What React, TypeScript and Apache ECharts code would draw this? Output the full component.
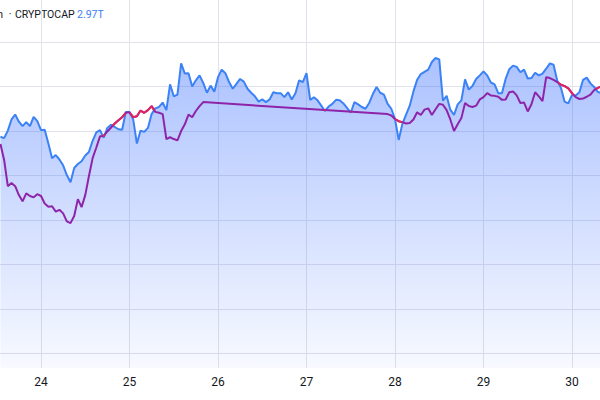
import React, { useEffect, useRef } from "react";
import * as echarts from "echarts";

// Hourly closes, CRYPTOCAP (in $B), first bar = 23rd 13:00
const START_DAY = 23 + 13 / 24;
const CRYPTOCAP = [
  2958.7, 2958.4, 2960.1, 2962.6, 2963.7, 2962.1, 2961.1, 2962.0, 2961.1, 2963.2,
  2962.2, 2960.2, 2960.3, 2957.2, 2953.9, 2954.6, 2953.6, 2952.3, 2950.1, 2948.5,
  2951.7, 2952.6, 2953.2, 2954.5, 2955.3, 2957.8, 2959.7, 2960.2, 2958.5, 2960.7,
  2961.4, 2960.9, 2960.4, 2960.3, 2964.3, 2964.3, 2962.6, 2957.2, 2960.1, 2959.8,
  2960.7, 2963.8, 2965.1, 2965.4, 2966.4, 2964.7, 2970.5, 2967.8, 2968.2, 2975.2,
  2972.9, 2973.0, 2970.0, 2971.4, 2972.5, 2970.8, 2968.6, 2970.2, 2968.8, 2972.1,
  2973.8, 2973.0, 2971.0, 2969.5, 2970.6, 2971.7, 2971.1, 2969.5, 2968.6, 2967.8,
  2966.6, 2967.1, 2966.5, 2967.1, 2968.7, 2968.5, 2968.5, 2967.6, 2968.7, 2967.1,
  2968.5, 2971.4, 2971.0, 2973.0, 2967.0, 2967.6, 2966.9, 2965.7, 2964.5, 2965.5,
  2966.1, 2967.0, 2966.9, 2966.2, 2965.2, 2964.1, 2966.5, 2966.0, 2965.4, 2965.0,
  2966.3, 2968.3, 2969.9, 2968.6, 2968.2, 2966.1, 2965.0, 2962.7, 2958.0, 2961.6,
  2963.7, 2965.7, 2968.9, 2971.5, 2972.8, 2973.3, 2973.8, 2975.5, 2976.4, 2976.1,
  2966.8, 2967.9, 2964.8, 2963.6, 2966.0, 2966.9, 2971.6, 2969.3, 2970.1, 2971.7,
  2972.5, 2973.4, 2972.5, 2970.9, 2970.5, 2968.5, 2968.5, 2971.7, 2973.9, 2974.7,
  2974.4, 2973.2, 2973.8, 2971.8, 2971.9, 2973.1, 2972.5, 2972.9, 2974.0, 2975.2,
  2974.9, 2971.3, 2969.7, 2966.6, 2966.2, 2968.1, 2968.0, 2968.7, 2971.5, 2972.0,
  2970.7, 2969.9, 2968.8, 2968.5,
];

// Compared symbol, rebased to the same scale; null = market closed (weekend)
const COMPARE = [
  2957.1, 2953.5, 2947.6, 2948.3, 2947.6, 2945.6, 2944.2, 2946.0, 2945.4, 2945.1,
  2945.8, 2945.4, 2943.7, 2943.0, 2943.1, 2941.9, 2942.3, 2941.5, 2939.7, 2939.3,
  2940.9, 2944.7, 2942.9, 2945.6, 2949.9, 2953.9, 2956.3, 2958.8, 2958.9, 2959.9,
  2960.8, 2961.7, 2962.4, 2963.1, 2964.1, 2964.2, 2963.1, 2963.3, 2964.6, 2964.1,
  2964.7, 2965.6, 2964.3, 2964.1, 2963.8, 2958.2, 2958.6, 2958.2, 2957.9, 2960.0,
  2961.5, 2963.7, 2963.1, 2964.5, 2965.6, 2966.5,
  null, null, null, null, null, null, null, null, null, null,
  null, null, null, null, null, null, null, null, null, null,
  null, null, null, null, null, null, null, null, null, null,
  null, null, null, null, null, null, null, null, null, null,
  null, null, null, null, null, null, null, null, null,
  2963.8, 2963.5, 2962.7, 2962.2, 2962.0, 2961.7, 2961.8, 2962.6, 2964.2, 2963.6,
  2964.8, 2965.1, 2963.6, 2964.9, 2966.1, 2965.9, 2964.7, 2962.6, 2960.0, 2961.5,
  2962.9, 2966.3, 2965.6, 2965.4, 2965.7, 2967.1, 2967.6, 2968.5, 2968.0, 2967.9,
  2967.7, 2967.0, 2967.1, 2968.7, 2968.9, 2968.0, 2966.3, 2966.4, 2964.4, 2966.0,
  2968.7, 2967.8, 2966.7, 2972.1, 2971.9, 2971.5, 2971.0, 2970.4, 2970.1, 2969.6,
  2968.5, 2967.6, 2967.2, 2967.3, 2967.7, 2968.2, 2969.2, 2969.7, 2970.0,
];

const X_MIN = 23.5367;
const X_MAX = 30.3164;
const Y_MIN = 2906.75;
const Y_MAX = 2989.44;

const HEADER_SYMBOL = "CRYPTOCAP";
const HEADER_PRICE = "2.97T";

export default function App() {
  const ref = useRef<HTMLDivElement>(null);

  useEffect(() => {
    if (!ref.current) return;
    const chart = echarts.init(ref.current, null, { renderer: "svg" });

    const xs = CRYPTOCAP.map((_, i) => START_DAY + i / 24);
    const blueData = CRYPTOCAP.map((v, i) => [xs[i], v]);
    const purpleData = COMPARE.map((v, i) => [xs[i], v === null ? null : v]);

    // comparison value along its drawn line (straight across closed hours)
    const full: number[] = [];
    let lastIdx = -1;
    for (let i = 0; i < COMPARE.length; i++) {
      if (COMPARE[i] !== null) {
        if (lastIdx >= 0 && i - lastIdx > 1) {
          const a = COMPARE[lastIdx] as number;
          const b = COMPARE[i] as number;
          for (let k = lastIdx + 1; k < i; k++) {
            full[k] = a + ((b - a) * (k - lastIdx)) / (i - lastIdx);
          }
        }
        full[i] = COMPARE[i] as number;
        lastIdx = i;
      }
    }

    // segments where the comparison is above the main series -> red
    const redData: any[] = [];
    let prevRed = false;
    for (let i = 0; i < full.length - 1; i++) {
      const p0 = full[i], p1 = full[i + 1];
      const d0 = p0 - CRYPTOCAP[i];
      const d1 = p1 - CRYPTOCAP[i + 1];
      if (d0 <= 0 && d1 <= 0) {
        if (prevRed) redData.push([xs[i], null]);
        prevRed = false;
        continue;
      }
      if (d0 > 0) {
        if (!prevRed) redData.push([xs[i], p0]);
      } else {
        const t = d0 / (d0 - d1);
        redData.push([xs[i] + t / 24, p0 + t * (p1 - p0)]);
      }
      if (d1 > 0) {
        redData.push([xs[i + 1], p1]);
        prevRed = true;
      } else {
        const t = d0 / (d0 - d1);
        redData.push([xs[i] + t / 24, p0 + t * (p1 - p0)]);
        redData.push([xs[i + 1], null]);
        prevRed = false;
      }
    }

    const gridColor = "#e0e3eb";
    const headerFont = { fontSize: 10.5, fontFamily: "Roboto, sans-serif" };

    chart.setOption({
      animation: false,
      grid: { left: 0, right: 0, top: 0, bottom: 32 },
      xAxis: {
        type: "value",
        min: X_MIN,
        max: X_MAX,
        splitNumber: 7,
        minInterval: 1,
        maxInterval: 1,
        axisLine: { show: false },
        axisTick: { show: false },
        axisLabel: {
          show: true,
          showMinLabel: false,
          showMaxLabel: false,
          margin: 8,
          color: "#131722",
          fontSize: 12,
          fontFamily: "Roboto, 'Noto Sans', sans-serif",
          formatter: (v: number) =>
            Math.abs(v - Math.round(v)) < 1e-6 ? String(Math.round(v)) : "",
        },
        splitLine: {
          show: true,
          showMinLine: false,
          showMaxLine: false,
          lineStyle: { color: gridColor, width: 1 },
        },
      },
      yAxis: {
        type: "value",
        min: Y_MIN,
        max: Y_MAX,
        splitNumber: 8,
        minInterval: 10,
        maxInterval: 10,
        axisLine: { show: false },
        axisTick: { show: false },
        axisLabel: { show: false },
        splitLine: {
          show: true,
          showMinLine: false,
          showMaxLine: false,
          lineStyle: { color: gridColor, width: 1 },
        },
      },
      series: [
        {
          type: "line",
          data: blueData,
          showSymbol: false,
          symbol: "none",
          lineStyle: { color: "#3b82f6", width: 2 },
          areaStyle: {
            origin: "start",
            color: new echarts.graphic.LinearGradient(0, 0, 0, 1, [
              { offset: 0, color: "rgba(41,98,255,0.55)" },
              { offset: 1, color: "rgba(41,98,255,0.05)" },
            ]),
          },
          z: 2,
        },
        {
          type: "line",
          data: purpleData,
          connectNulls: true,
          showSymbol: false,
          symbol: "none",
          lineStyle: { color: "#8e24aa", width: 2 },
          z: 3,
        },
        {
          type: "line",
          data: redData,
          connectNulls: false,
          showSymbol: false,
          symbol: "none",
          lineStyle: { color: "#e0245e", width: 2 },
          z: 4,
        },
      ],
      graphic: [
        {
          type: "text",
          x: 3,
          y: 14,
          style: { text: "1h", align: "right", verticalAlign: "middle", fill: "#131722", ...headerFont },
        },
        {
          type: "text",
          x: 10,
          y: 14,
          style: { text: "·", align: "center", verticalAlign: "middle", fill: "#131722", ...headerFont },
        },
        {
          type: "text",
          x: 15,
          y: 14,
          style: { text: HEADER_SYMBOL, align: "left", verticalAlign: "middle", fill: "#131722", ...headerFont },
        },
        {
          type: "text",
          x: 77,
          y: 14,
          style: { text: HEADER_PRICE, align: "left", verticalAlign: "middle", fill: "#3c7ef5", ...headerFont },
        },
      ],
    });

    return () => chart.dispose();
  }, []);

  return (
    <div
      ref={ref}
      style={{ position: "fixed", left: 0, top: 0, width: 600, height: 400, background: "#ffffff" }}
    />
  );
}
